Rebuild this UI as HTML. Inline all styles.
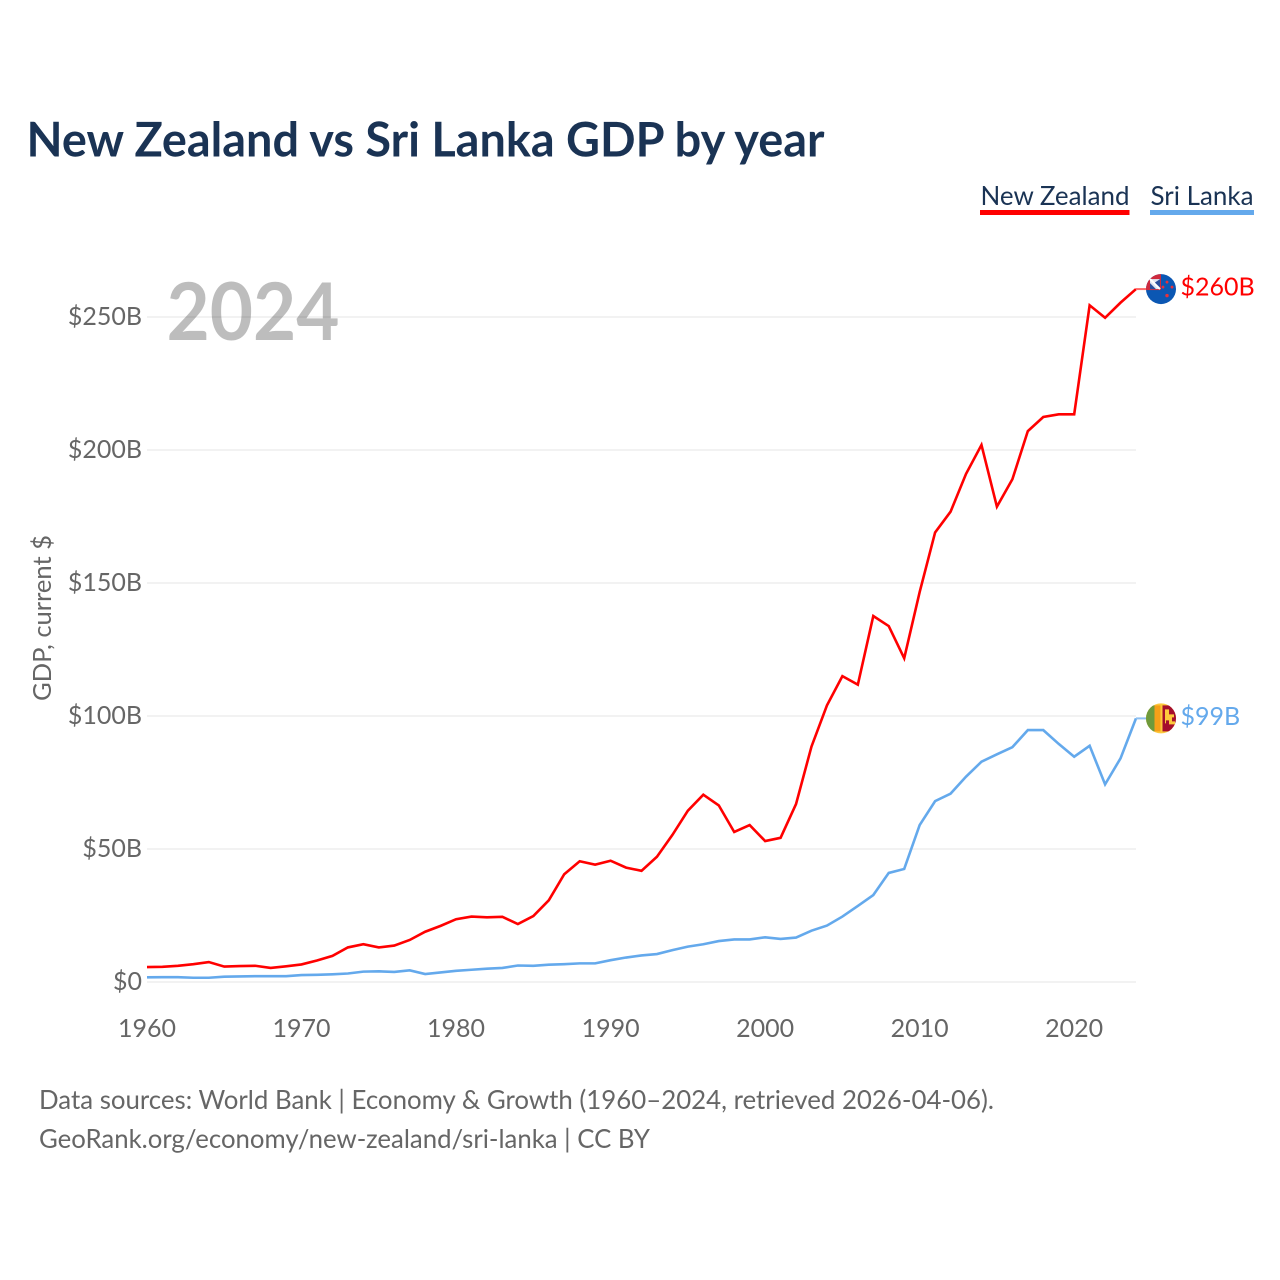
<!DOCTYPE html>
<html lang="en">
<head>
<meta charset="utf-8">
<title>New Zealand vs Sri Lanka GDP by year</title>
<style>
  html, body { margin: 0; padding: 0; background: #fff; width: 1280px; height: 1280px; overflow: hidden; }
  svg { display: block; font-family: "Lato", "Carlito", "Liberation Sans", sans-serif; }
  .tick { font-size: 25px; fill: #666; }
</style>
</head>
<body>
<svg id="chart" width="1280" height="1280" viewBox="0 0 1280 1280" xmlns="http://www.w3.org/2000/svg">
  <defs>
    <clipPath id="flag-clip"><circle cx="0" cy="0" r="15"></circle></clipPath>
  </defs>
  <rect width="1280" height="1280" fill="#fff"></rect>

  <text x="26.5" y="156.5" font-size="48" font-weight="700" fill="#1a3354" textLength="798" lengthAdjust="spacingAndGlyphs">New Zealand vs Sri Lanka GDP by year</text>

  <g>
    <text x="980.5" y="205" font-size="26.5" fill="#1a3354" textLength="149" lengthAdjust="spacingAndGlyphs">New Zealand</text>
    <rect x="980" y="210" width="149.5" height="5" fill="#ff0000"></rect>
    <text x="1150.5" y="205" font-size="26.5" fill="#1a3354" textLength="103" lengthAdjust="spacingAndGlyphs">Sri Lanka</text>
    <rect x="1150" y="210" width="104" height="5" fill="#64a9ec"></rect>
  </g>

  <g id="grid"></g>
  <g id="y-axis"></g>
  <g id="x-axis"></g>

  <text transform="translate(51,618) rotate(-90)" text-anchor="middle" font-size="25.5" fill="#666" textLength="166" lengthAdjust="spacingAndGlyphs">GDP, current $</text>

  <text x="166.5" y="340" font-size="80" font-weight="700" fill="rgba(0,0,0,0.26)" textLength="173" lengthAdjust="spacingAndGlyphs">2024</text>

  <g id="series"></g>

  <g id="flag-nz">
    <g clip-path="url(#flag-clip)">
      <rect x="-16" y="-16" width="32" height="32" fill="#0b57b3"></rect>
      <rect x="-16" y="-16" width="16" height="17" fill="#cf2a3e"></rect>
      <rect x="-11" y="-10" width="10" height="10" fill="#dfe4f0"></rect>
      <path d="M-1,-10 L-1,0 L-7,-6 Z" fill="#2a4f9c"></path>
      <path d="M-11,-6 L-5,0 L-11,0 Z" fill="#2a4f9c"></path>
      <path d="M-11,-10 L-1,0" stroke="#ffffff" stroke-width="2"></path>
      <circle cx="6" cy="-7" r="1.4" fill="#e8303a"></circle>
      <circle cx="2" cy="-2" r="1.4" fill="#e8303a"></circle>
      <circle cx="11" cy="-2" r="1.4" fill="#e8303a"></circle>
      <circle cx="6" cy="6.5" r="1.7" fill="#e8303a"></circle>
    </g>
  </g>

  <g id="flag-lk">
    <g clip-path="url(#flag-clip)">
      <rect x="-16" y="-16" width="32" height="32" fill="#fdc93c"></rect>
      <rect x="-15" y="-13" width="8.5" height="26" fill="#6f9a3c"></rect>
      <rect x="-6.5" y="-13" width="6" height="26" fill="#f7a019"></rect>
      <rect x="1.5" y="-13" width="14" height="26" fill="#a50e2d"></rect>
      <path d="M4,-9 h4 v5 h5 v3 h-2 v4 h3 v3 h-6 v-4 h-3 v3 h-1 z" fill="#fdc93c"></path>
    </g>
  </g>

  <g>
    <text x="39" y="1109" font-size="26.5" fill="#666" textLength="955" lengthAdjust="spacingAndGlyphs">Data sources: World Bank | Economy &amp; Growth (1960–2024, retrieved 2026-04-06).</text>
    <text x="39" y="1148" font-size="26.5" fill="#666" textLength="611" lengthAdjust="spacingAndGlyphs">GeoRank.org/economy/new-zealand/sri-lanka | CC BY</text>
  </g>
</svg>

<script>
const years = [1960,1961,1962,1963,1964,1965,1966,1967,1968,1969,1970,1971,1972,1973,1974,1975,1976,1977,1978,1979,1980,1981,1982,1983,1984,1985,1986,1987,1988,1989,1990,1991,1992,1993,1994,1995,1996,1997,1998,1999,2000,2001,2002,2003,2004,2005,2006,2007,2008,2009,2010,2011,2012,2013,2014,2015,2016,2017,2018,2019,2020,2021,2022,2023,2024];
const newZealandGdp = [5.6,5.7,6.1,6.7,7.5,5.8,6.0,6.1,5.3,5.9,6.6,8.1,9.8,13.0,14.2,13.0,13.7,15.8,18.9,21.1,23.6,24.6,24.3,24.5,21.8,24.8,30.7,40.5,45.4,44.1,45.6,43.0,41.8,47.1,55.3,64.4,70.4,66.4,56.4,59.0,53.0,54.2,66.9,88.5,104.0,115.0,111.8,137.6,133.8,121.7,146.6,169.0,176.8,191.0,201.9,178.7,189.0,207.1,212.4,213.4,213.4,254.4,249.7,255.4,260.5];
const sriLankaGdp = [1.75,1.8,1.8,1.6,1.6,2.0,2.1,2.2,2.2,2.2,2.6,2.7,2.9,3.2,3.9,4.0,3.8,4.4,3.0,3.6,4.2,4.6,5.0,5.3,6.2,6.1,6.5,6.7,7.0,7.0,8.2,9.2,10.0,10.5,12.0,13.3,14.2,15.4,16.0,16.0,16.8,16.2,16.7,19.3,21.2,24.6,28.6,32.7,41.0,42.5,59.0,68.0,70.8,77.2,82.8,85.6,88.3,94.7,94.7,89.5,84.7,88.8,74.3,84.1,99.1];
const yTickValues = [0,50,100,150,200,250];
const xTickValues = [1960,1970,1980,1990,2000,2010,2020];
const newZealandEndLabel = "$260B";
const sriLankaEndLabel = "$99B";

const SVGNS = "http://www.w3.org/2000/svg";
const x0 = 147, x1 = 1136, yBase = 982, pxPerBillion = 2.66;
function xScale(year) { return x0 + (year - years[0]) * (x1 - x0) / (years[years.length - 1] - years[0]); }
function yScale(value) { return yBase - value * pxPerBillion; }
function make(tag, parent) {
  const el = document.createElementNS(SVGNS, tag);
  parent.appendChild(el);
  return el;
}

const grid = document.getElementById("grid");
const yAxis = document.getElementById("y-axis");
const xAxis = document.getElementById("x-axis");
const seriesGroup = document.getElementById("series");
const chart = document.getElementById("chart");

yTickValues.forEach(function (v) {
  const line = make("line", grid);
  
  
  line.setAttribute("x1", x0);
  line.setAttribute("x2", x1);
  line.setAttribute("y1", yScale(v));
  line.setAttribute("y2", yScale(v));
  line.setAttribute("stroke", "#eeeeee");
  line.setAttribute("stroke-width", "1.5");

  const label = make("text", yAxis);
  
  
  label.setAttribute("class", "tick");
  label.setAttribute("x", 142);
  label.setAttribute("y", yScale(v) + 8);
  label.setAttribute("text-anchor", "end");
  label.textContent = "$" + v + (v === 0 ? "" : "B");
});

xTickValues.forEach(function (yr) {
  const label = make("text", xAxis);
  
  
  label.setAttribute("class", "tick");
  label.setAttribute("x", xScale(yr));
  label.setAttribute("y", 1037);
  label.setAttribute("text-anchor", "middle");
  label.textContent = yr;
});

function pathFor(values) {
  return values.map(function (v, i) {
    return (i ? "L" : "M") + xScale(years[i]).toFixed(2) + "," + yScale(v).toFixed(2);
  }).join(" ");
}

const nzLine = make("path", seriesGroup);


nzLine.setAttribute("d", pathFor(newZealandGdp));
nzLine.setAttribute("fill", "none");
nzLine.setAttribute("stroke", "#ff0000");
nzLine.setAttribute("stroke-width", "2.6");
nzLine.setAttribute("stroke-linejoin", "miter");

const lkLine = make("path", seriesGroup);


lkLine.setAttribute("d", pathFor(sriLankaGdp));
lkLine.setAttribute("fill", "none");
lkLine.setAttribute("stroke", "#64a9ec");
lkLine.setAttribute("stroke-width", "2.6");
lkLine.setAttribute("stroke-linejoin", "miter");

const nzY = yScale(newZealandGdp[newZealandGdp.length - 1]);
const lkY = yScale(sriLankaGdp[sriLankaGdp.length - 1]);

const nzConnector = make("line", seriesGroup);


nzConnector.setAttribute("x1", x1);
nzConnector.setAttribute("x2", 1146);
nzConnector.setAttribute("y1", nzY);
nzConnector.setAttribute("y2", nzY);
nzConnector.setAttribute("stroke", "#ff6a6a");
nzConnector.setAttribute("stroke-width", "2");

const lkConnector = make("line", seriesGroup);


lkConnector.setAttribute("x1", x1);
lkConnector.setAttribute("x2", 1146);
lkConnector.setAttribute("y1", lkY);
lkConnector.setAttribute("y2", lkY);
lkConnector.setAttribute("stroke", "#8fc0f0");
lkConnector.setAttribute("stroke-width", "2");

document.getElementById("flag-nz").setAttribute("transform", "translate(1161," + nzY + ")");
document.getElementById("flag-lk").setAttribute("transform", "translate(1161," + lkY + ")");

const nzLabel = make("text", chart);


nzLabel.setAttribute("x", 1180.5);
nzLabel.setAttribute("y", nzY + 6.5);
nzLabel.setAttribute("font-size", "25");
nzLabel.setAttribute("fill", "#ff0000");
nzLabel.textContent = newZealandEndLabel;

const lkLabel = make("text", chart);


lkLabel.setAttribute("x", 1180.5);
lkLabel.setAttribute("y", lkY + 6.5);
lkLabel.setAttribute("font-size", "25");
lkLabel.setAttribute("fill", "#64a9ec");
lkLabel.textContent = sriLankaEndLabel;
</script>
</body>
</html>
